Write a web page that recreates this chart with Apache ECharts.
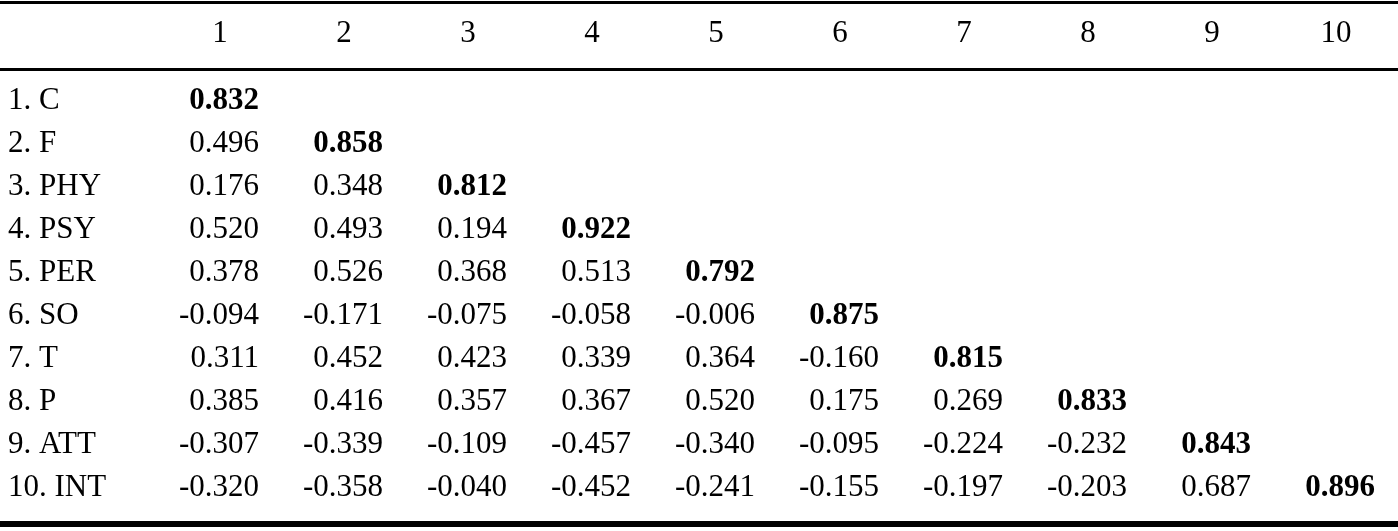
<!DOCTYPE html>
<html>
<head>
<meta charset="utf-8">
<script src="https://cdn.jsdelivr.net/npm/echarts@6/dist/echarts.min.js"></script>
<style>html,body{margin:0;padding:0;background:#fff}#main{width:1398px;height:531px}</style>
</head>
<body>
<div id="main"></div>
<script>
var columns = ['1', '2', '3', '4', '5', '6', '7', '8', '9', '10'];
var rowNames = ['1. C', '2. F', '3. PHY', '4. PSY', '5. PER', '6. SO', '7. T', '8. P', '9. ATT', '10. INT'];
// lower triangle of the matrix, diagonal last in each row
var rows = [
    ['0.832'],
    ['0.496', '0.858'],
    ['0.176', '0.348', '0.812'],
    ['0.520', '0.493', '0.194', '0.922'],
    ['0.378', '0.526', '0.368', '0.513', '0.792'],
    ['-0.094', '-0.171', '-0.075', '-0.058', '-0.006', '0.875'],
    ['0.311', '0.452', '0.423', '0.339', '0.364', '-0.160', '0.815'],
    ['0.385', '0.416', '0.357', '0.367', '0.520', '0.175', '0.269', '0.833'],
    ['-0.307', '-0.339', '-0.109', '-0.457', '-0.340', '-0.095', '-0.224', '-0.232', '0.843'],
    ['-0.320', '-0.358', '-0.040', '-0.452', '-0.241', '-0.155', '-0.197', '-0.203', '0.687', '0.896']
];

var cells = [];
rows.forEach(function (r, i) {
    r.forEach(function (v, j) {
        cells.push({ value: [j + 1, i + 1, v], diag: i === j });
    });
});

var font = 'Liberation Serif, Times New Roman, serif';
var fs = 31;
var main = echarts.init(document.getElementById('main'));
var option = {
    animation: false,
    grid: { left: 158, width: 1241, top: 79.5, height: 430 },
    xAxis: {
        type: 'value', min: 0.5, max: 10.5, position: 'top',
        axisLine: { show: false }, axisTick: { show: false }, splitLine: { show: false },
        axisLabel: {
            margin: 30, color: '#000', fontFamily: font, fontSize: fs,
            customValues: [1, 2, 3, 4, 5, 6, 7, 8, 9, 10],
            formatter: function (v) { return columns[Math.round(v) - 1] || ''; }
        }
    },
    yAxis: {
        type: 'value', min: 0.5, max: 10.5, inverse: true,
        axisLine: { show: false }, axisTick: { show: false }, splitLine: { show: false },
        axisLabel: {
            margin: 150, align: 'left', color: '#000', fontFamily: font, fontSize: fs,
            customValues: [1, 2, 3, 4, 5, 6, 7, 8, 9, 10],
            formatter: function (v) { return rowNames[Math.round(v) - 1] || ''; }
        }
    },
    series: [{
        type: 'scatter',
        symbolSize: 1,
        itemStyle: { color: '#fff', opacity: 1 },
        data: cells,
        label: {
            show: true, position: 'inside', align: 'right', offset: [39, 0],
            color: '#000', opacity: 1, fontFamily: font, fontSize: fs,
            formatter: function (p) {
                return p.data.diag ? '{b|' + p.value[2] + '}' : '{n|' + p.value[2] + '}';
            },
            rich: {
                b: { fontWeight: 'bold', fontFamily: font, fontSize: fs, color: '#000' },
                n: { fontFamily: font, fontSize: fs, color: '#000' }
            }
        }
    }],
    graphic: [
        { type: 'rect', shape: { x: 0, y: 1, width: 1398, height: 3 }, style: { fill: '#000' } },
        { type: 'rect', shape: { x: 0, y: 68, width: 1398, height: 3 }, style: { fill: '#000' } },
        { type: 'rect', shape: { x: 0, y: 521, width: 1398, height: 6 }, style: { fill: '#000' } }
    ]
};
main.setOption(option);
</script>
</body>
</html>
